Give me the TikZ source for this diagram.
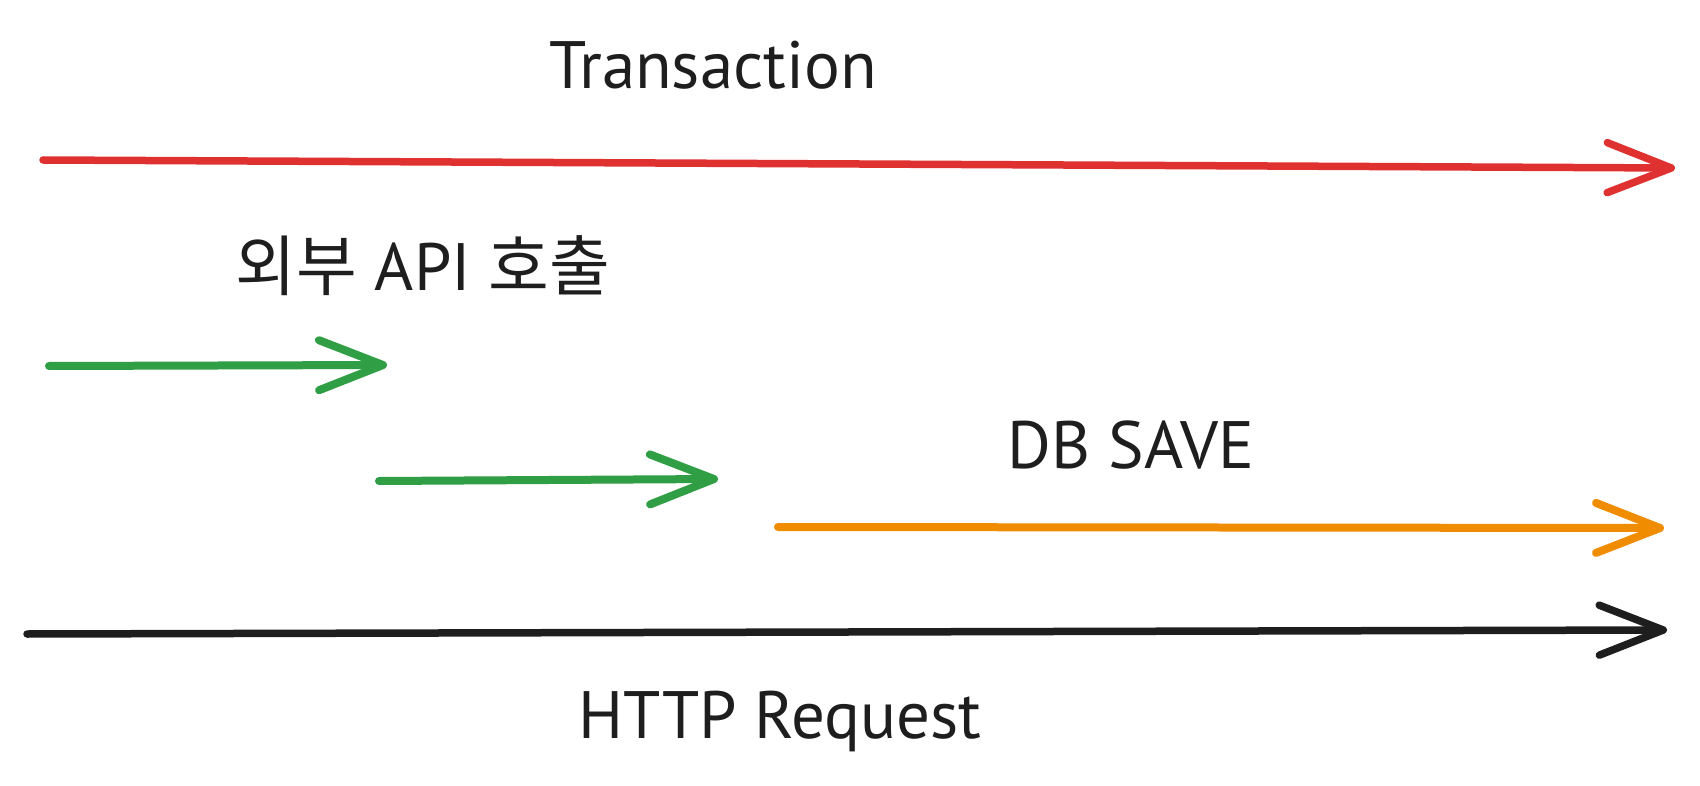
\documentclass[tikz,border=0pt]{standalone}
\usepackage{fontspec}
\setmainfont{PT Sans}
\newfontfamily\krfont{Noto Sans CJK KR}
\usetikzlibrary{arrows.meta}
\definecolor{exred}{HTML}{E03131}
\definecolor{exgreen}{HTML}{2F9E44}
\definecolor{exorange}{HTML}{F08C00}
\definecolor{exblack}{HTML}{1E1E1E}
\tikzset{
  arr/.style={line width=7.5pt, line cap=round, line join=round,
    -{Straight Barb[length=64pt,width=50pt,line cap=round,line join=round]}},
  lbl/.style={inner sep=0pt, text=exblack, font=\fontsize{67}{72}\selectfont},
}
\begin{document}
\begin{tikzpicture}[x=1pt,y=-1pt]
\useasboundingbox[fill=white] (0,0) rectangle (1700,786);
% coordinates
\coordinate (r1) at (43,160);
\coordinate (r2) at (1675,168);
\coordinate (g1a) at (49,366);
\coordinate (g1b) at (387,365);
\coordinate (g2a) at (379,481);
\coordinate (g2b) at (718,479);
\coordinate (o1) at (778,527);
\coordinate (o2) at (1664,528);
\coordinate (k1) at (27,634);
\coordinate (k2) at (1667,630);
% arrows
\draw[arr, exred] (r1) -- (r2);
\draw[arr, exgreen, line width=8pt] (g1a) -- (g1b);
\draw[arr, exgreen, line width=8pt] (g2a) -- (g2b);
\draw[arr, exorange, line width=8pt] (o1) -- (o2);
\draw[arr, exblack] (k1) -- (k2);
% labels
\node[lbl] (tx) at (713,65) {Transaction};
\node[lbl] (api) at (423,266) {{\krfont\fontsize{66}{72}\selectfont 외부} API {\krfont\fontsize{66}{72}\selectfont 호출}};
\node[lbl] (db) at (1131,445) {DB SAVE};
\node[lbl] (http) at (780,721) {HTTP Request};
\end{tikzpicture}
\end{document}
